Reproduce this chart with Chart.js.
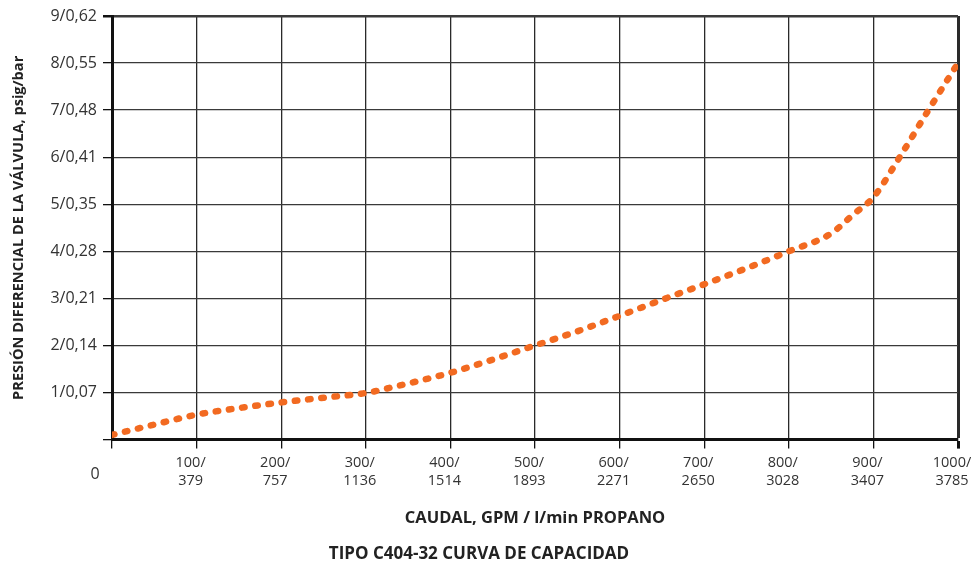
<!DOCTYPE html>
<html>
<head>
<meta charset="utf-8">
<script src="https://cdn.jsdelivr.net/npm/chart.js@4"></script>
<style>
  html, body { margin: 0; padding: 0; background: #fff; }
  #wrap { width: 971px; height: 564px; }
</style>
</head>
<body>
<div id="wrap"><canvas id="chart" width="971" height="564"></canvas></div>
<script>
// Datos de la curva (GPM, psig)
const flowGpm = [0, 50, 100, 150, 200, 250, 300, 340, 400, 450, 500, 550, 600, 650, 700, 750, 800, 850, 876, 900, 931, 964, 1000];
const pressurePsig = [0.1, 0.32, 0.53, 0.67, 0.79, 0.89, 0.99, 1.15, 1.42, 1.7, 2.0, 2.3, 2.63, 2.97, 3.3, 3.64, 4.0, 4.38, 4.78, 5.15, 6.0, 6.97, 8.0];

const xTickLabels = {
    100: ['100/', '379'], 200: ['200/', '757'], 300: ['300/', '1136'], 400: ['400/', '1514'],
    500: ['500/', '1893'], 600: ['600/', '2271'], 700: ['700/', '2650'], 800: ['800/', '3028'],
    900: ['900/', '3407'], 1000: ['1000/', '3785']
};
const yTickLabels = ['', '1/0,07', '2/0,14', '3/0,21', '4/0,28', '5/0,35', '6/0,41', '7/0,48', '8/0,55', '9/0,62'];

const orange = '#F26A21';

// Etiqueta "0" en la esquina
const zeroLabel = {
    id: 'zeroLabel',
    afterDraw(chart) {
        const ctx = chart.ctx;
        const x = chart.scales.x.getPixelForValue(0) - 17;
        const y = chart.chartArea.bottom + 35;
        ctx.save();
        ctx.font = '16px "Open Sans"';
        ctx.fillStyle = '#333';
        ctx.textAlign = 'center';
        ctx.textBaseline = 'middle';
        ctx.fillText('0', x, y);
        ctx.restore();
    }
};

new Chart(document.getElementById('chart'), {
    type: 'line',
    data: {
        datasets: [{
            data: flowGpm.map((x, i) => ({ x: x, y: pressurePsig[i] })),
            borderColor: orange,
            borderWidth: 6.5,
            borderDash: [2.5, 10.8],
            borderCapStyle: 'round',
            cubicInterpolationMode: 'monotone',
            pointRadius: 0,
            fill: false
        }]
    },
    options: {
        responsive: false,
        animation: false,
        layout: { padding: { top: 16, right: 13, left: 0, bottom: 0 } },
        plugins: {
            legend: { display: false },
            tooltip: { enabled: false },
            title: {
                display: true,
                position: 'bottom',
                text: 'TIPO C404-32 CURVA DE CAPACIDAD',
                color: '#222',
                font: { family: 'Open Sans', size: 17, weight: 'bold' },
                padding: { top: 0, bottom: 0 }
            }
        },
        scales: {
            x: {
                type: 'linear',
                min: 0,
                max: 1000,
                afterFit: s => { s.height = 104; s.paddingLeft = 0; s.paddingRight = 0; },
                border: { color: '#111', width: 3 },
                grid: {
                    color: '#2a2a2a',
                    lineWidth: c => (c.tick && c.tick.value === 1000 ? 3 : 1.3),
                    tickLength: 9,
                    tickColor: '#111'
                },
                ticks: {
                    stepSize: 100,
                    autoSkip: false,
                    maxRotation: 0,
                    color: '#333',
                    font: { family: 'Open Sans', size: 14.5 },
                    padding: 6,
                    labelOffset: -6,
                    callback: v => xTickLabels[v] || ''
                },
                title: {
                    display: true,
                    text: 'CAUDAL, GPM / l/min PROPANO',
                    color: '#222',
                    font: { family: 'Open Sans', size: 16.5, weight: 'bold' },
                    padding: { top: 0, bottom: 15 }
                }
            },
            y: {
                min: 0,
                max: 9,
                afterFit: s => { s.width = 112; },
                border: { color: '#111', width: 3 },
                grid: {
                    color: '#3a3a3a',
                    lineWidth: c => (c.tick && c.tick.value === 9 ? 2.5 : 1.3),
                    tickLength: 9,
                    tickColor: '#111'
                },
                ticks: {
                    stepSize: 1,
                    color: '#333',
                    font: { family: 'Open Sans', size: 16 },
                    padding: 6,
                    callback: v => yTickLabels[v]
                },
                title: {
                    display: true,
                    text: 'PRESIÓN DIFERENCIAL DE LA VÁLVULA, psig/bar',
                    color: '#222',
                    font: { family: 'Open Sans', size: 14.6, weight: 'bold' },
                    padding: { top: 10, bottom: 0 }
                }
            }
        }
    },
    plugins: [zeroLabel]
});
</script>
</body>
</html>
